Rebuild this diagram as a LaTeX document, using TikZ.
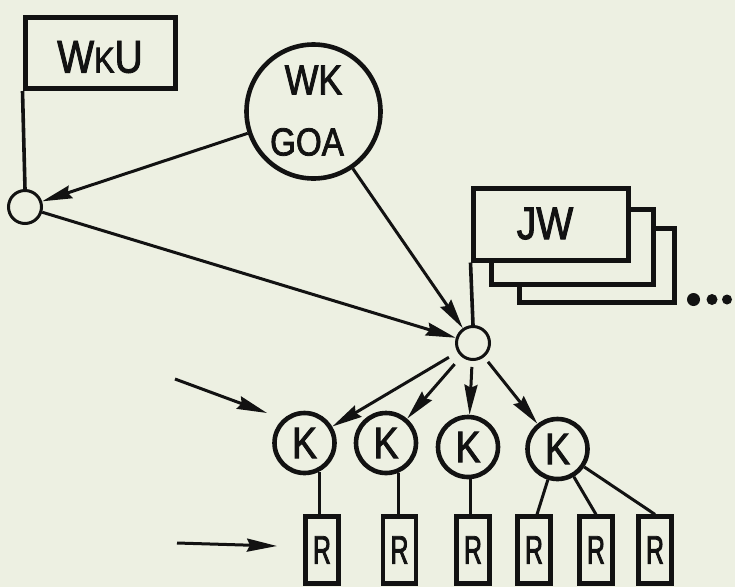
\documentclass[tikz,border=0pt]{standalone}
\usepackage{fontspec}
\setmainfont{Liberation Sans}
\newfontfamily\hand[FakeStretch=0.85,FakeBold=2]{Liberation Sans}
\newfontfamily\handn[FakeStretch=0.62,FakeBold=2]{Liberation Sans}
\usetikzlibrary{arrows.meta}
\definecolor{paper}{HTML}{EDF0E2}
\definecolor{ink}{HTML}{121212}
\begin{document}
\begin{tikzpicture}[x=1pt,y=-1pt,
  box/.style={draw=ink,line width=5pt,fill=paper,inner sep=0pt,rectangle},
  bigc/.style={draw=ink,line width=4.6pt,circle,inner sep=0pt,fill=paper},
  kc/.style={bigc,minimum size=60pt,font=\hand\fontsize{44}{46}\selectfont,text=ink},
  rbox/.style={box,line width=4.2pt,minimum width=33pt,minimum height=67pt,font=\handn\fontsize{40}{42}\selectfont,text=ink},
  smallc/.style={draw=ink,line width=3pt,circle,inner sep=0pt,minimum size=33pt},
  lbl/.style={inner sep=0pt,text=ink},
  conn/.style={draw=ink,line width=3pt},
  arr/.style={conn,-{Stealth[length=30pt,width=13pt,inset=3pt]}},
  dot/.style={fill=ink,circle,inner sep=0pt},
]
\fill[paper] (0,0) rectangle (735,587);
\useasboundingbox (0,0) rectangle (735,587);

% WKU flag
\node[box,minimum width=150pt,minimum height=71pt] (wku) at (100,53) {};
\node[lbl,font=\hand\fontsize{46}{48}\selectfont] (wkul) at (100,57) {W{\fontsize{36}{38}\selectfont K}U};
\node[smallc] (c1) at (25,207) {};
\draw[conn,line width=3.6pt] (wku.south west) -- (c1.north);

% WK GOA circle
\node[bigc,minimum size=134pt] (wk) at (313.5,111.5) {};
\node[lbl,font=\hand\fontsize{42}{44}\selectfont] (wkl) at (313.5,80) {WK};
\node[lbl,font=\hand\fontsize{39}{41}\selectfont] (goa) at (307,142) {GOA};

% JW stacked flags
\node[box,minimum width=155pt,minimum height=74pt] (jw3) at (597.4,265) {};
\node[box,minimum width=162pt,minimum height=74.7pt] (jw2) at (572.5,247.2) {};
\node[box,minimum width=155.5pt,minimum height=72pt] (jw1) at (550.75,224) {};
\node[lbl,font=\hand\fontsize{46}{48}\selectfont] (jwl) at (545,223.5) {JW};
\node[smallc] (c2) at (473,343) {};
\draw[conn,line width=3.6pt] (jw1.south west) -- (c2.north);

% dots
\node[dot,minimum size=13pt] (d1) at (693.5,299.5) {};
\node[dot,minimum size=11pt] (d2) at (712,299.5) {};
\node[dot,minimum size=10pt] (d3) at (727,299.5) {};

% connectors at top
\draw[arr] (wk) -- (c1);
\draw[arr] (c1) -- (c2);
\draw[arr] (wk) -- (c2);

% K circles
\node[kc] (k1) at (304.5,443) {K};
\node[kc] (k2) at (386,443) {K};
\node[kc] (k3) at (468,447) {K};
\node[kc] (k4) at (557.5,449) {K};

\draw[arr,shorten <=10pt] (c2) -- (k1);
\draw[arr,shorten <=10pt] (c2) -- (k2);
\draw[arr,shorten <=6pt] (c2) -- (k3);
\draw[arr,shorten <=6pt] (c2) -- (k4);

% R boxes
\node[rbox] (r1) at (322,550) {R};
\node[rbox] (r2) at (399.5,550) {R};
\node[rbox] (r3) at (473,550) {R};
\node[rbox] (r4) at (534,550) {R};
\node[rbox] (r5) at (596,550) {R};
\node[rbox] (r6) at (655,550) {R};

\draw[conn] (k1.-63) -- (k1.-63 |- r1.north);
\draw[conn] (k2.-68) -- (k2.-68 |- r2.north);
\draw[conn] (k3.-86) -- (k3.-86 |- r3.north);
\draw[conn] (k4) -- ([xshift=3pt]r4.north);
\draw[conn] (k4) -- (r5.north);
\draw[conn] (k4) -- (r6.north);

% free arrows on the left
\coordinate (a1s) at (175,379);
\coordinate (a1e) at (267,413);
\coordinate (a2s) at (177,543);
\coordinate (a2e) at (277,546);
\draw[arr] (a1s) -- (a1e);
\draw[arr] (a2s) -- (a2e);
\end{tikzpicture}
\end{document}
